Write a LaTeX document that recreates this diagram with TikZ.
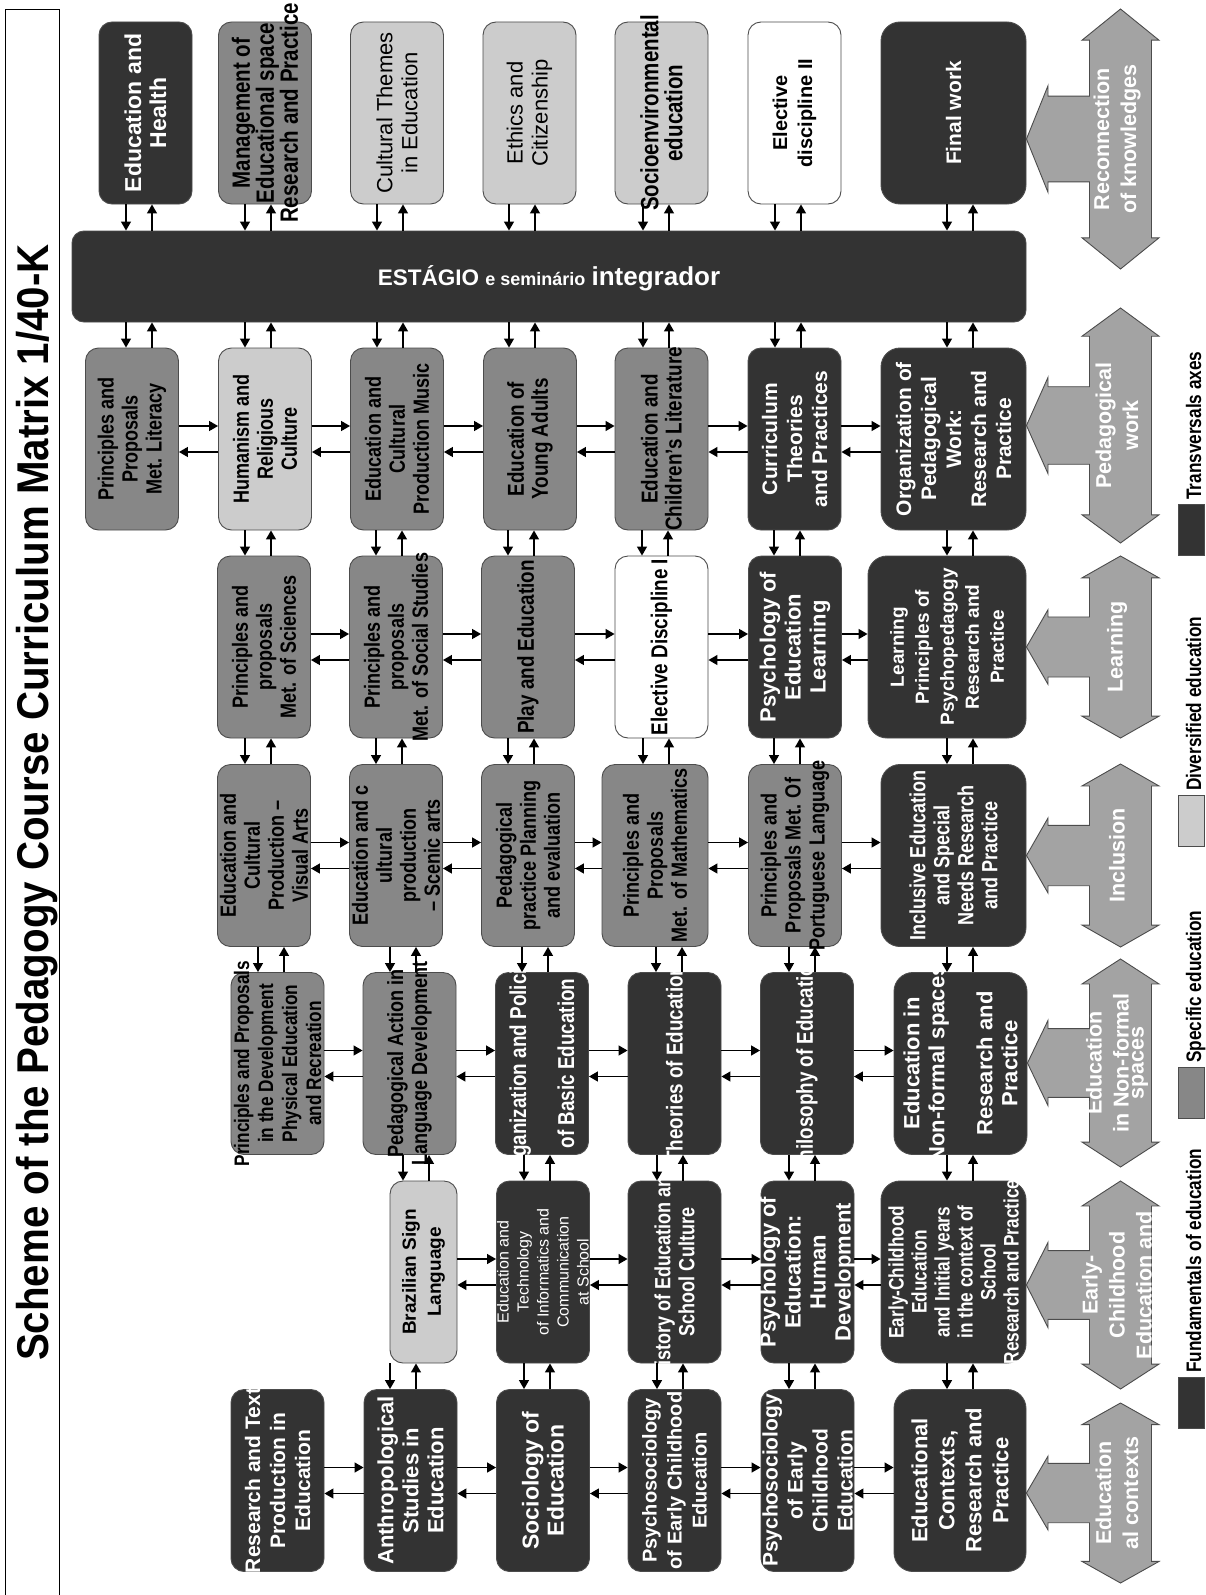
\documentclass[tikz,border=0pt]{standalone}
\usepackage{fontspec}
\setmainfont{Liberation Sans}
\newfontfamily\narrowfont{Liberation Sans}[FakeStretch=0.82]
\newfontfamily\titlefont{Liberation Sans}[FakeStretch=0.905]
\usetikzlibrary{arrows.meta}
\definecolor{fundc}{gray}{0.2}
\definecolor{specc}{gray}{0.53}
\definecolor{divrc}{gray}{0.8}
\definecolor{axisc}{gray}{0.64}
\definecolor{linec}{gray}{0.3}

\begin{document}
\begin{tikzpicture}[x=1pt, y=-1pt,
  course/.style={draw=linec, line width=0.9pt, rounded corners=13pt,
    minimum width=93pt, minimum height=182pt, inner sep=0pt},
  fund/.style={course, fill=fundc},
  spec/.style={course, fill=specc},
  divr/.style={course, fill=divrc},
  free/.style={course, fill=white},
  wide/.style={minimum width=145pt, rounded corners=19pt},
  txt/.style={rotate=90, align=center, inner sep=0pt},
  cn/.style={txt, font=\narrowfont\bfseries\fontsize{#1}{24}\selectfont},
  cn/.default=22,
  nm/.style={txt, font=\bfseries\fontsize{#1}{25}\selectfont},
  nm/.default=21,
  rg/.style={txt, font=\fontsize{#1}{25}\selectfont},
  rg/.default=21,
  arr/.style={-{Triangle[length=9pt,width=10pt]}, line width=1.3pt},
]
\fill[white] (0,0) rectangle (1205,1595);
\useasboundingbox (0,0) rectangle (1205,1595);

% title
\draw[line width=1pt] (5,1595) -- (5,10) -- (59,10) -- (59,1595);
\node[txt, font=\titlefont\bfseries\fontsize{44.5}{44.5}\selectfont] (title) at (37,802.5)
  {Scheme of the Pedagogy Course Curriculum Matrix 1/40-K};

% row 1
\path (145.5,113) node[fund] (hlth) {} node[nm=23, text=white] (hlthT) {Education and\\Health};
\path (265,113) node[spec] (mgmt) {} node[cn=25] (mgmtT) {Management of\\Educational space\\Research and Practice};
\path (397,113) node[divr] (cult) {} node[rg=22] (cultT) {Cultural Themes\\in Education};
\path (529.5,113) node[divr] (ethc) {} node[rg=22] (ethcT) {Ethics and\\Citizenship};
\path (661.5,113) node[divr] (socio) {} node[cn=25] (socioT) {Socioenvironmental\\education};
\path (794.5,113) node[free] (elec2) {} node[nm=20] (elec2T) {Elective\\discipline II};
\path (953.5,113) node[fund, wide] (final) {} node[nm, text=white] (finalT) {Final work};

% internship bar
\node[fund, minimum width=954pt, minimum height=91pt, rounded corners=12pt] (bar) at (549,276.5) {};
\node[text=white, font=\bfseries\fontsize{22.5}{22.5}\selectfont] (barT) at (549,278)
  {ESTÁGIO {\fontsize{18}{18}\selectfont e seminário} {\fontsize{26}{26}\selectfont integrador}};

% row 2
\path (132,439) node[spec] (lit) {} node[cn] (litT) {Principles and\\Proposals\\Met. Literacy};
\path (265,439) node[divr] (hum) {} node[cn] (humT) {Humanism and\\Religious\\Culture};
\path (397,439) node[spec] (mus) {} node[cn] (musT) {Education and\\Cultural\\Production  Music};
\path (530,439) node[spec] (yad) {} node[cn=23] (yadT) {Education of\\Young Adults};
\path (661.5,439) node[spec] (chl) {} node[cn=23] (chlT) {Education and\\Children’s Literature};
\path (794.5,439) node[fund] (cur) {} node[nm, text=white] (curT) {Curriculum\\Theories\\and Practices};
\path (953.5,439) node[fund, wide] (opw) {} node[nm, text=white] (opwT) {Organization of\\Pedagogical\\Work:\\Research and\\Practice};

% row 3
\path (264,647) node[spec] (sci) {} node[cn] (sciT) {Principles and\\proposals\\Met. of Sciences};
\path (396,647) node[spec] (soc) {} node[cn] (socT) {Principles and\\proposals\\Met. of Social Studies};
\path (528,647) node[spec] (play) {} node[cn=23] (playT) {Play and Education};
\path (661.5,647) node[free] (el1) {} node[cn=23] (el1T) {Elective Discipline I};
\path (795,647) node[fund] (psl) {} node[nm=22, text=white] (pslT) {Psychology of\\Education\\Learning};
\path (947,647) node[fund, wide, minimum width=158pt] (lpp) {} node[nm=19, text=white] (lppT) {Learning\\Principles of\\Psychopedagogy\\Research and\\Practice};

% row 4
\path (264,855.5) node[spec] (vis) {} node[cn] (visT) {Education and\\Cultural\\Production –\\Visual Arts};
\path (396,855.5) node[spec] (scn) {} node[cn] (scnT) {Education and c\\ultural\\production\\– Scenic arts};
\path (528,855.5) node[spec] (ppe) {} node[cn] (ppeT) {Pedagogical\\practice  Planning\\and evaluation};
\path (655,855.5) node[spec, minimum width=106pt] (mat) {} node[cn] (matT) {Principles and\\Proposals\\Met. of Mathematics};
\path (795,855.5) node[spec] (por) {} node[cn] (porT) {Principles and\\Proposals Met. Of\\Portuguese Language};
\path (953.5,855.5) node[fund, wide] (inc) {} node[cn, text=white] (incT) {Inclusive Education\\and Special\\Needs  Research\\and Practice};

% row 5
\path (277.5,1063.5) node[spec] (phy) {} node[cn=21] (phyT) {Principles and Proposals\\in the Development\\Physical Education\\and Recreation};
\path (409.5,1063.5) node[spec] (pal) {} node[cn] (palT) {Pedagogical Action in\\Language Development};
\path (542,1063.5) node[fund] (opb) {} node[cn=23, text=white] (opbT) {Organization and Policies\\[24pt]of Basic Education};
\path (674.5,1063.5) node[fund] (the) {} node[cn=23, text=white] (theT) {Theories of Education};
\path (807,1063.5) node[fund] (phi) {} node[cn=23, text=white] (phiT) {Philosophy of Education};
\path (960.5,1063.5) node[fund, wide, minimum width=133pt] (nfs) {} node[nm=22, text=white] (nfsT) {Education in\\Non-formal spaces\\[23pt]Research and\\Practice};

% row 6
\path (423.5,1272) node[divr, minimum width=67pt] (bsl) {} node[nm=19] (bslT) {Brazilian Sign\\Language};
\path (543,1272) node[fund] (etc) {} node[txt, font=\fontsize{16}{20}\selectfont, text=white] (etcT) {Education and\\Technology\\of Informatics and\\Communication\\at School};
\path (674.5,1272) node[fund] (his) {} node[cn, text=white] (hisT) {History of Education and\\School Culture};
\path (807.5,1272) node[fund] (phd) {} node[nm=22, text=white] (phdT) {Psychology of\\Education:\\Human\\Development};
\path (953.5,1272) node[fund, wide] (ech) {} node[txt, font=\narrowfont\bfseries\fontsize{21}{23}\selectfont, text=white] (echT) {Early-Childhood\\Education\\and Initial years\\in the context of\\School\\Research and Practice};

% row 7
\path (277.5,1480.5) node[fund] (rtp) {} node[nm, text=white] (rtpT) {Research and Text\\Production in\\Education};
\path (410.5,1480.5) node[fund] (ant) {} node[nm=22, text=white] (antT) {Anthropological\\Studies in\\Education};
\path (543,1480.5) node[fund] (soe) {} node[nm=23, text=white] (soeT) {Sociology of\\Education};
\path (674.5,1480.5) node[fund] (pse1) {} node[nm=20, text=white] (pse1T) {Psychosociology\\of Early Childhood\\Education};
\path (807.5,1480.5) node[fund] (pse2) {} node[nm, text=white] (pse2T) {Psychosociology\\of Early\\Childhood\\Education};
\path (960,1480.5) node[fund, wide, minimum width=132pt] (ecr) {} node[txt, font=\bfseries\fontsize{22}{27}\selectfont, text=white] (ecrT) {Educational\\Contexts,\\Research and\\Practice};

% links between rows (down at x, up at x+26)
\foreach \u/\l/\x [evaluate=\x as \xx using \x+26] in {
  hlth/bar/126, mgmt/bar/245, cult/bar/377, ethc/bar/509, socio/bar/643, elec2/bar/775, final/bar/947,
  bar/lit/126, bar/hum/245, bar/mus/377, bar/yad/509, bar/chl/643, bar/cur/775, bar/opw/947,
  hum/sci/245, mus/soc/376, yad/play/508, chl/el1/642, cur/psl/774, opw/lpp/947,
  sci/vis/245, soc/scn/376, play/ppe/508, el1/mat/643, psl/por/774, lpp/inc/947,
  vis/phy/258, scn/pal/390, ppe/opb/522, mat/the/656, por/phi/789, inc/nfs/947,
  pal/bsl/403, opb/etc/524, the/his/657, phi/phd/789, nfs/ech/947,
  bsl/ant/390, etc/soe/524, his/pse1/657, phd/pse2/789, ech/ecr/947} {
  \draw[arr] (\u.south -| \x,0) -- (\l.north -| \x,0);
  \draw[arr] (\l.north -| \xx,0) -- (\u.south -| \xx,0);
}

% links inside a row
\foreach \a/\b in {lit/hum, hum/mus, mus/yad, yad/chl, chl/cur, cur/opw,
  sci/soc, soc/play, play/el1, el1/psl, psl/lpp,
  vis/scn, scn/ppe, ppe/mat, mat/por, por/inc,
  phy/pal, pal/opb, opb/the, the/phi, phi/nfs,
  bsl/etc, etc/his, his/phd, phd/ech,
  rtp/ant, ant/soe, soe/pse1, pse1/pse2, pse2/ecr} {
  \draw[arr] ([yshift=13pt]\a.east) -- ([yshift=13pt]\b.west);
  \draw[arr] ([yshift=-13pt]\b.west) -- ([yshift=-13pt]\a.east);
}

% transversal axes
\foreach \t/\b/\bx/\lab [count=\i] in {
  9/269/final/{Reconnection\\of knowledges},
  308/543/opw/{Pedagogical\\work},
  556/738/lpp/Learning,
  764/947/inc/Inclusion,
  959/1167/nfs/{Education\\in Non-formal\\[-12pt]spaces},
  1181/1389/ech/{Early-\\Childhood\\Education and},
  1403/1583/ecr/{Education\\al contexts}} {
  \pgfmathsetmacro\m{(\t+\b)/2}
  \pgfmathsetmacro\a{0.12*(\b-\t)}
  \pgfmathsetmacro\s{0.165*(\b-\t)}
  \pgfmathsetmacro\h{0.205*(\b-\t)}
  \filldraw[fill=axisc, draw=linec, line width=0.9pt]
    (1120.5,\t) -- (1159,\t+\a) -- (1151.5,\t+\a) -- (1151.5,\b-\a) -- (1159,\b-\a)
    -- (1120.5,\b) -- (1082,\b-\a) -- (1089.5,\b-\a) -- (1089.5,\m+\s) -- (1048,\m+\s)
    -- (1048,\m+\h) -- (\bx.east |- 0,\m) -- (1048,\m-\h) -- (1048,\m-\s)
    -- (1089.5,\m-\s) -- (1089.5,\t+\a) -- (1082,\t+\a) -- cycle;
  \node[txt, text=white, font=\bfseries\fontsize{21.5}{27}\selectfont] (axis\i) at (1117,\m) {\lab};
}

% legend
\foreach \y/\c/\lab [count=\i] in {1377/fundc/Fundamentals of education,
  1067/specc/Specific education, 795/divrc/Diversified education,
  504/fundc/Transversals axes} {
  \node[draw=linec, line width=0.9pt, fill=\c, minimum width=26pt, minimum height=51pt,
    inner sep=0pt, anchor=north west] (key\i) at (1178,\y) {};
  \node[rotate=90, anchor=base west, inner sep=0pt,
    font=\narrowfont\bfseries\fontsize{21}{21}\selectfont] (lab\i) at (1201,\y-4) {\lab};
}
\end{tikzpicture}
\end{document}
